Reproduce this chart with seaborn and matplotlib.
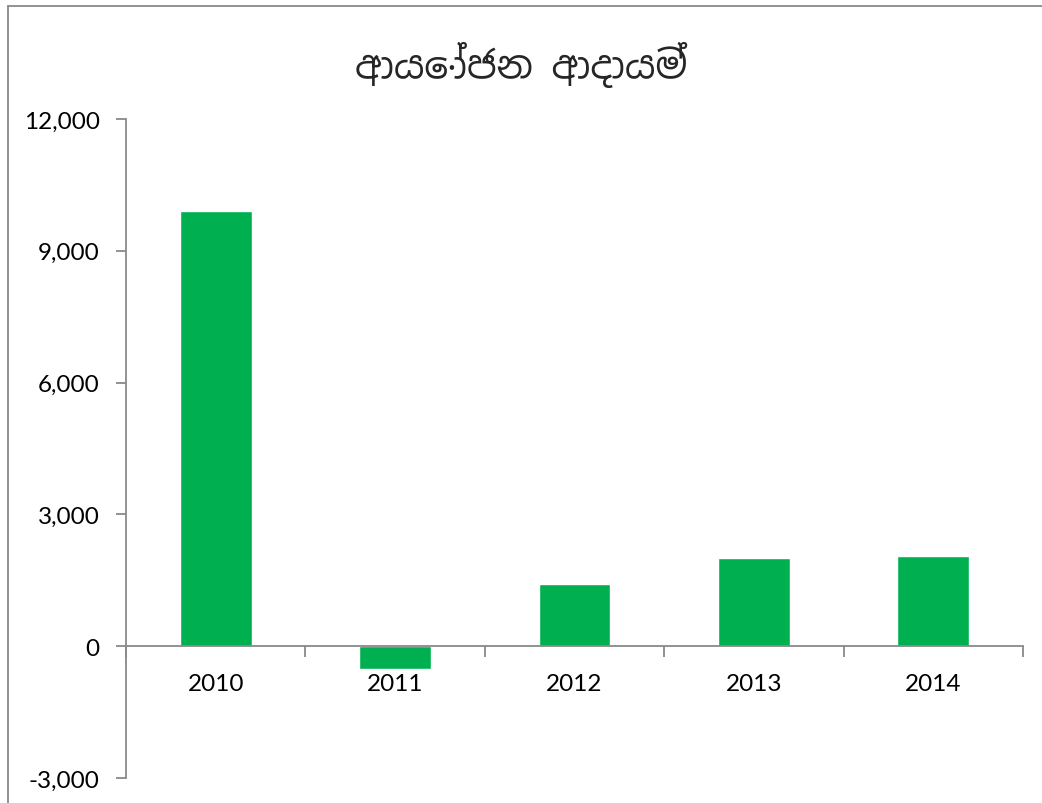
import matplotlib
matplotlib.use("Agg")
import matplotlib.pyplot as plt
import matplotlib.ticker as mticker
from matplotlib.lines import Line2D
import seaborn as sns
import pandas as pd

# data
years = ["2010", "2011", "2012", "2013", "2014"]
income = [9910, -525, 1410, 2000, 2045]
title = "ආයෝජන ආදායම්"

sns.set_theme(style="white")
plt.rcParams["font.family"] = ["Lato", "Noto Sans", "DejaVu Sans"]

df = pd.DataFrame({"year": years, "income": income})

fig = plt.figure(figsize=(10.42, 8.04), dpi=100)
ax = fig.add_axes([0.1209, 0.0311, 0.8609, 0.8196])

sns.barplot(data=df, x="year", y="income", color="#00B050", width=0.4,
            saturation=1, ax=ax)

ax.set_xlim(-0.5, 4.5)
ax.set_ylim(-3000, 12000)
ax.yaxis.set_major_locator(mticker.MultipleLocator(3000))
ax.yaxis.set_major_formatter(mticker.FuncFormatter(lambda v, p: f"{v:,.0f}"))
ax.set_xlabel("")
ax.set_ylabel("")

for s in ["top", "right"]:
    ax.spines[s].set_visible(False)
ax.spines["bottom"].set_position(("data", 0))
for s in ["left", "bottom"]:
    ax.spines[s].set_color("#898989")
    ax.spines[s].set_linewidth(1.3)

ax.tick_params(axis="y", which="major", direction="out", length=7, width=1.3,
               color="#898989", labelsize=17.5, labelcolor="#000000", pad=12, left=True)
ax.tick_params(axis="x", which="major", length=0, labelsize=17.5,
               labelcolor="#000000", pad=19)
ax.set_xticks([i - 0.5 for i in range(len(years) + 1)], minor=True)
ax.tick_params(axis="x", which="minor", direction="out", length=8, width=1.3,
               color="#898989", bottom=True)

fig.text(0.5, 0.919, title, ha="center", va="center", fontsize=27,
         fontweight="bold", family=["Noto Sans Sinhala", "Noto Sans", "DejaVu Sans"])

# outer chart frame
fig.add_artist(Line2D([8 / 1042, 1], [1 - 7 / 804, 1 - 7 / 804],
                      transform=fig.transFigure, color="#898989", lw=1.3))
fig.add_artist(Line2D([8 / 1042, 8 / 1042], [0, 1 - 7 / 804],
                      transform=fig.transFigure, color="#898989", lw=1.3))

fig.savefig("out.png", dpi=100)
